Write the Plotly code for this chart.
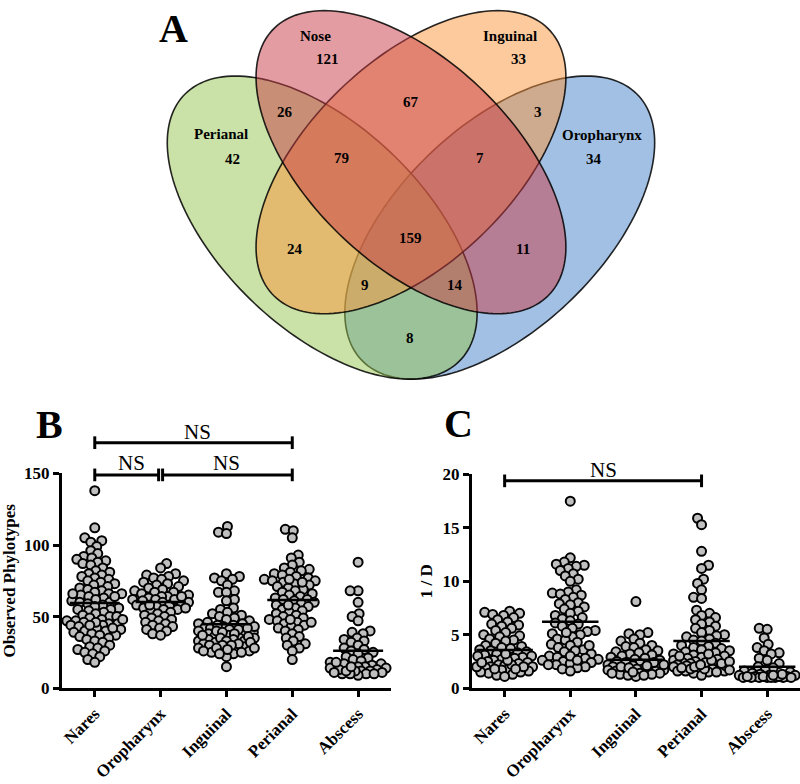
import numpy as np
import plotly.graph_objects as go

# ---------------- DATA ----------------
categories = ["Nares", "Oropharynx", "Inguinal", "Perianal", "Abscess"]

obs_nares = [138, 112, 105, 103, 102, 99, 96, 94, 92, 91, 90, 89, 88, 87, 86, 84, 82, 81, 80, 79,
             78, 77, 76, 75, 74, 73, 72, 71, 70, 69, 68, 67, 66, 66, 65, 64, 63, 62, 61, 60,
             60, 59, 58, 57, 56, 55, 55, 54, 53, 52, 51, 50, 50, 49, 48, 47, 47, 46, 45, 45,
             44, 44, 43, 42, 41, 40, 40, 39, 38, 37, 37, 36, 35, 34, 33, 32, 30, 29, 28, 27,
             26, 25, 24, 22, 20, 18, 46, 48, 44, 42, 66, 64]
obs_oro = [87, 84, 80, 79, 78, 77, 76, 75, 74, 73, 72, 71, 70, 69, 68, 67, 67, 66, 65, 64,
           64, 63, 62, 62, 61, 60, 60, 59, 58, 58, 57, 56, 55, 55, 54, 53, 52, 51, 50, 49,
           48, 47, 46, 45, 44, 43, 42, 41, 40, 38, 37, 62, 58, 56, 64]
obs_ing = [113, 109, 108, 80, 78, 77, 76, 75, 72, 68, 67, 67, 62, 61, 56, 55, 53, 52, 51, 50,
           49, 48, 47, 46, 45, 44, 43, 42, 42, 41, 40, 39, 38, 38, 37, 36, 35, 35, 34, 33,
           33, 32, 31, 30, 29, 28, 27, 26, 25, 15, 45, 44, 43, 42, 41, 40, 39, 38, 37, 36,
           35, 34, 33, 32, 31, 30, 28, 26, 24, 22, 30, 28, 27, 25, 24]
obs_peri = [111, 110, 105, 93, 91, 88, 86, 84, 83, 82, 81, 80, 79, 78, 77, 76, 75, 75, 74, 73,
            72, 71, 70, 69, 68, 67, 66, 65, 64, 63, 62, 61, 60, 59, 58, 57, 56, 55, 54, 53,
            52, 51, 50, 49, 48, 47, 46, 45, 44, 43, 42, 41, 40, 38, 36, 35, 33, 31, 30, 28,
            26, 20, 76, 74, 62, 58, 48, 46]
obs_abs = [88, 68, 68, 60, 52, 50, 47, 40, 39, 38, 35, 34, 33, 32, 30, 28, 27, 26, 25, 24,
           22, 21, 20, 19, 18, 17, 17, 16, 15, 15, 14, 13, 12, 12, 11, 10, 10, 9, 14, 13,
           12, 11, 10, 10, 12, 15, 18]

inv_nares = [7.2, 7.1, 7.0, 6.9, 6.8, 6.6, 6.4, 6.2, 6.0, 5.9, 5.8, 5.6, 5.4, 5.2, 5.0, 4.9,
             4.8, 4.6, 4.5, 4.4, 4.2, 4.0, 3.9, 3.8, 3.7, 3.6, 3.5, 3.4, 3.3, 3.2, 3.1, 3.0,
             3.0, 2.9, 2.8, 2.7, 2.6, 2.5, 2.4, 2.3, 2.2, 2.1, 2.0, 2.0, 1.9, 1.8, 1.7, 1.6,
             1.5, 1.4, 1.3, 1.2, 1.1, 2.2, 2.0, 1.8, 2.6, 3.2, 1.5, 2.0, 2.4, 1.8]
inv_oro = [17.5, 12.2, 11.8, 11.6, 11.5, 11.4, 11.2, 11.0, 10.7, 10.5, 10.2, 10.0, 9.2, 9.0,
           8.9, 8.8, 8.7, 8.5, 8.3, 8.0, 7.9, 7.8, 7.6, 7.4, 7.2, 7.0, 6.8, 6.6, 6.5, 6.3,
           6.1, 6.0, 5.8, 5.6, 5.4, 5.3, 5.1, 5.0, 4.8, 4.6, 4.5, 4.3, 4.1, 4.0, 3.8, 3.6,
           3.5, 3.4, 3.2, 3.0, 2.9, 2.8, 2.7, 2.6, 2.5, 2.4, 2.3, 2.2, 2.0, 1.9, 1.8, 1.6,
           3.0, 2.6, 4.0, 5.2, 2.2]
inv_ing = [8.1, 5.2, 5.1, 5.0, 4.6, 4.4, 4.2, 4.0, 3.9, 3.8, 3.6, 3.5, 3.4, 3.3, 3.2, 3.1,
           3.0, 2.9, 2.8, 2.7, 2.6, 2.5, 2.4, 2.3, 2.2, 2.1, 2.0, 2.0, 1.9, 1.8, 1.8, 1.7,
           1.6, 1.5, 1.5, 1.4, 1.3, 1.2, 1.1, 1.6, 1.4, 1.3, 1.2, 2.0, 1.9, 2.2, 2.4,
           1.5, 1.7, 2.1, 1.4]
inv_peri = [15.9, 15.3, 12.8, 11.5, 11.2, 10.2, 9.8, 9.2, 8.5, 8.4, 7.3, 7.0, 6.8, 6.6, 6.4,
            6.2, 6.0, 5.8, 5.6, 5.4, 5.2, 5.0, 4.9, 4.8, 4.6, 4.5, 4.4, 4.2, 4.0, 3.9, 3.8,
            3.7, 3.6, 3.5, 3.4, 3.3, 3.2, 3.1, 3.0, 2.9, 2.8, 2.7, 2.6, 2.5, 2.4, 2.3, 2.2,
            2.1, 2.0, 1.9, 1.8, 1.7, 1.6, 1.5, 1.4, 1.2, 2.2, 2.0, 1.8, 1.6, 2.4, 2.6, 3.0,
            3.2, 2.1, 2.3, 1.5, 1.6, 1.8, 2.0, 2.2, 2.5, 1.7, 1.9]
inv_abs = [5.6, 5.5, 4.7, 4.1, 3.8, 3.5, 3.3, 3.2, 2.8, 2.6, 2.3, 2.0, 1.9, 1.7, 1.6, 1.5,
           1.4, 1.3, 1.2, 1.2, 1.1, 1.1, 1.0, 1.0, 1.0, 1.0, 1.0, 1.1, 1.2, 1.3, 1.0, 1.1,
           1.0, 1.1, 1.2, 1.0]

obs_groups = [obs_nares, obs_oro, obs_ing, obs_peri, obs_abs]
inv_groups = [inv_nares, inv_oro, inv_ing, inv_peri, inv_abs]

obs_ticks = [0, 50, 100, 150]
inv_ticks = [0, 5, 10, 15, 20]

venn_set_names = ["Nose", "Inguinal", "Perianal", "Oropharynx"]
venn_set_only = [121, 33, 42, 34]
venn_overlaps = [26, 67, 3, 79, 7, 24, 159, 11, 9, 14, 8]

# ---------------- LAYOUT HELPERS ----------------
W, H = 800, 784


def PX(x):
    return x / W


def PY(y):
    return 1 - y / H


# panel geometry (pixels)
B_L, B_R, B_T, B_B = 60, 390, 476, 696
C_L, C_R, C_T, C_B = 471, 800, 477, 696
XR = [-0.5, 4.5]
B_YR = [0, 150]
C_YR = [0, 20]

SERIF = "Liberation Serif, Tinos, Times New Roman, DejaVu Serif, Noto Serif, serif"


def swarm(vals, ppx, ppy, min_d=7.4, max_off=28, step=1.0):
    vals = np.asarray(vals, dtype=float)
    order = np.argsort(vals)
    placed = []
    offs = np.zeros(len(vals))
    cands = [0.0]
    k = 1
    while k * step <= max_off:
        cands += [k * step, -k * step]
        k += 1
    for n, i in enumerate(order):
        y = vals[i] * ppy
        best = None
        sgn = 1 if n % 2 == 0 else -1
        for c in cands:
            c = c * sgn
            if all((c - a) ** 2 + (y - b) ** 2 >= min_d ** 2 for a, b in placed):
                best = c
                break
        if best is None:
            best = max(cands, key=lambda c: min((c - a) ** 2 + (y - b) ** 2 for a, b in placed))
        placed.append((best, y))
        offs[i] = best / ppx
    return offs


fig = go.Figure()

marker = dict(size=9, color="rgb(192,192,192)", line=dict(color="black", width=2))


def add_panel(groups, xa, ya, ppx, ppy, half):
    for i, g in enumerate(groups):
        offs = swarm(g, ppx, ppy)
        fig.add_trace(go.Scatter(x=i + offs, y=g, mode="markers", marker=marker,
                                 xaxis=xa, yaxis=ya, showlegend=False, cliponaxis=False,
                                 hoverinfo="y"))
        m = float(np.mean(g))
        fig.add_trace(go.Scatter(x=[i - half, i + half], y=[m, m], mode="lines",
                                 line=dict(color="black", width=2.5),
                                 xaxis=xa, yaxis=ya, showlegend=False, hoverinfo="skip"))


b_ppx = (B_R - B_L) / (XR[1] - XR[0])
b_ppy = (B_B - B_T) / (B_YR[1] - B_YR[0])
c_ppx = (C_R - C_L) / (XR[1] - XR[0])
c_ppy = (C_B - C_T) / (C_YR[1] - C_YR[0])

add_panel(obs_groups, "x", "y", b_ppx, b_ppy, 0.38)
add_panel(inv_groups, "x2", "y2", c_ppx, c_ppy, 0.43)

axis_common = dict(showline=True, linecolor="black", linewidth=3, ticks="outside",
                   ticklen=6, tickwidth=2.5, tickcolor="black", showgrid=False,
                   zeroline=False, fixedrange=True)
tfont = dict(family=SERIF, size=17, color="black", weight="bold")

fig.update_layout(
    width=W, height=H,
    margin=dict(l=0, r=0, t=0, b=0),
    paper_bgcolor="white", plot_bgcolor="white",
    xaxis=dict(domain=[PX(B_L), PX(B_R)], range=XR, tickvals=list(range(5)),
               ticktext=categories, tickangle=-45, anchor="y", tickfont=tfont,
               **axis_common),
    yaxis=dict(domain=[PY(B_B), PY(B_T)], range=B_YR, tickvals=obs_ticks, anchor="x",
               tickfont=tfont,
               title=dict(text="Observed Phylotypes", standoff=6, font=tfont),
               **axis_common),
    xaxis2=dict(domain=[PX(C_L), PX(C_R)], range=XR, tickvals=list(range(5)),
                ticktext=categories, tickangle=-45, anchor="y2", tickfont=tfont,
                **axis_common),
    yaxis2=dict(domain=[PY(C_B), PY(C_T)], range=C_YR, tickvals=inv_ticks, anchor="x2",
                tickfont=tfont,
                title=dict(text="1 / D", standoff=6, font=tfont),
                **axis_common),
)

shapes = []
annotations = []


def label(text, x, y, size, bold=True):
    annotations.append(dict(text=("<b>%s</b>" % text) if bold else text,
                            x=PX(x), y=PY(y), xref="paper", yref="paper",
                            xanchor="center", yanchor="middle", showarrow=False,
                            font=dict(family=SERIF, size=size, color="black")))


# ---- significance brackets (paper coords computed from category / value) ----
def b_xy(cat, val):
    return B_L + (cat - XR[0]) * b_ppx, B_B - (val - B_YR[0]) * b_ppy


def c_xy(cat, val):
    return C_L + (cat - XR[0]) * c_ppx, C_B - (val - C_YR[0]) * c_ppy


def bracket(x0, x1, y, tick=6.5):
    shapes.append(dict(type="line", xref="paper", yref="paper", x0=PX(x0), x1=PX(x1),
                       y0=PY(y), y1=PY(y), line=dict(color="black", width=3)))
    for xx in (x0, x1):
        shapes.append(dict(type="line", xref="paper", yref="paper", x0=PX(xx), x1=PX(xx),
                           y0=PY(y - tick), y1=PY(y + tick), line=dict(color="black", width=3)))


x0, y_top = b_xy(0, 171.5)
x3, _ = b_xy(3, 0)
bracket(x0, x3, y_top)
label("NS", (x0 + x3) / 2 + 4, y_top - 11, 21, bold=False)

x1, y_row = b_xy(1, 149)
bracket(x0, x1 - 2, y_row)
bracket(x1 + 2, x3, y_row)
label("NS", (x0 + x1) / 2 + 4, y_row - 12, 21, bold=False)
label("NS", (x1 + x3) / 2, y_row - 12, 21, bold=False)

cx0, cy = c_xy(0, 19.4)
cx3, _ = c_xy(3, 0)
bracket(cx0, cx3, cy)
label("NS", (cx0 + cx3) / 2, cy - 11, 21, bold=False)

# ---- panel letters ----
for letter, (lx, ly) in zip(["A", "B", "C"], [(172, 20), (48, 426), (458, 425)]):
    label(letter, lx, ly, 40)

# ---- Venn ellipses ----
A_AX, B_AX = 194, 103
ellipses = [  # (center x, center y, direction sign, rgb) in drawing order
    (499, 224, -1, (70, 130, 200)),   # Oropharynx
    (321, 224, 1, (150, 195, 80)),    # Perianal
    (410, 157, -1, (250, 150, 60)),   # Inguinal
    (410, 157, 1, (200, 60, 70)),     # Nose
]
t = np.linspace(0, 2 * np.pi, 181)
for cx, cy_, sgn, col in ellipses:
    ux, uy = np.cos(np.pi / 4), sgn * np.sin(np.pi / 4)
    vx, vy = -uy, ux
    xs = cx + A_AX * np.cos(t) * ux + B_AX * np.sin(t) * vx
    ys = cy_ + A_AX * np.cos(t) * uy + B_AX * np.sin(t) * vy
    path = "M " + " L ".join("%.5f,%.5f" % (PX(a), PY(b)) for a, b in zip(xs, ys)) + " Z"
    shapes.append(dict(type="path", xref="paper", yref="paper", path=path,
                       fillcolor="rgba(%d,%d,%d,0.5)" % col,
                       line=dict(color="rgba(0,0,0,0.85)", width=1.6), layer="below"))

set_name_pos = [(314, 28), (509, 28), (220, 128), (602, 129)]
set_num_pos = [(326, 51), (518, 51), (231, 154), (593, 154)]
overlap_pos = [(284, 106), (410, 95), (537, 106), (340, 153), (479, 153), (294, 246),
               (410, 235), (522, 246), (364, 283), (454, 283), (409, 337)]

for name, (x, y) in zip(venn_set_names, set_name_pos):
    label(name, x, y, 15)
for val, (x, y) in zip(venn_set_only, set_num_pos):
    label(str(val), x, y, 15)
for val, (x, y) in zip(venn_overlaps, overlap_pos):
    label(str(val), x, y, 15)

fig.update_layout(shapes=shapes, annotations=annotations)

fig.write_html("out.html", config={"displayModeBar": False},
               post_script="document.body.style.margin='0';document.body.style.overflow='hidden';")
